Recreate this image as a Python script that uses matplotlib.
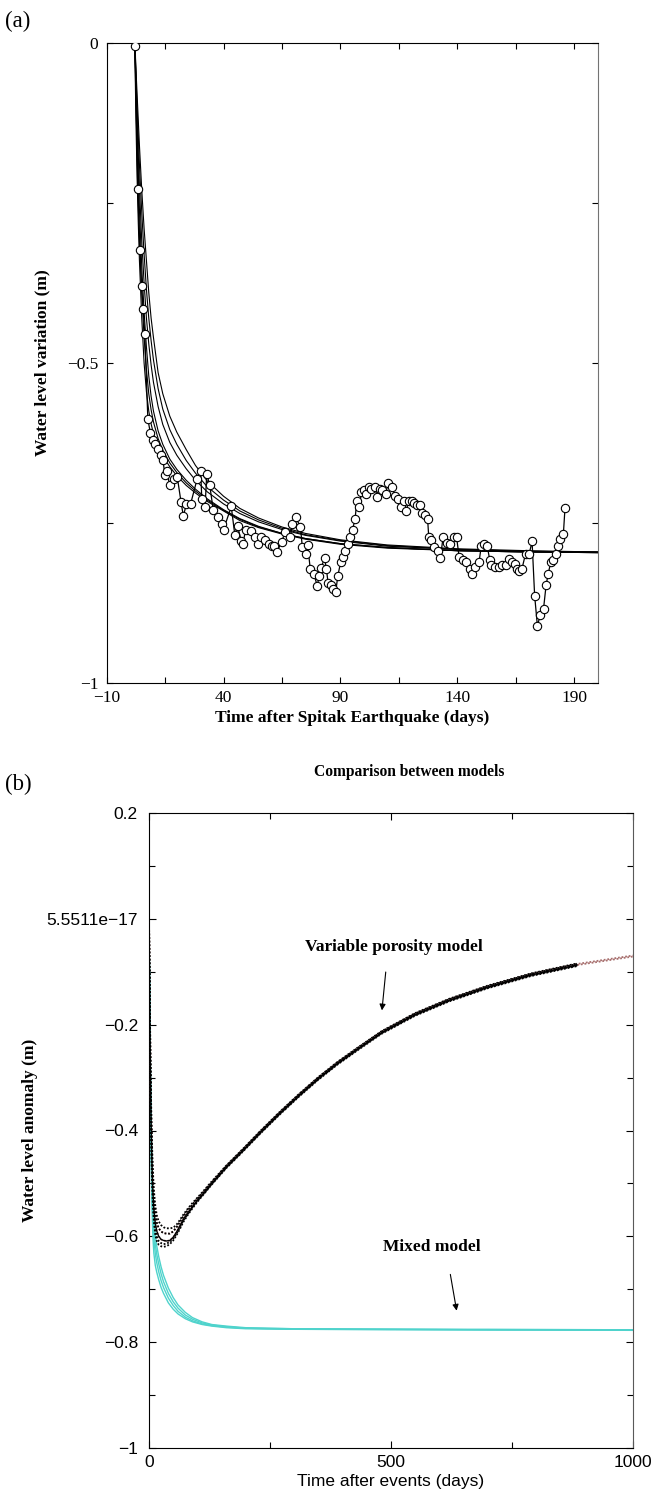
import matplotlib
matplotlib.use("Agg")
import matplotlib.pyplot as plt
from matplotlib.ticker import FixedLocator

# ---------------------------------------------------------------------------
# Panel (a): observed water level after the Spitak earthquake + model fits
# ---------------------------------------------------------------------------
obs_t = [2.2, 3.3, 4.2, 4.9, 5.6, 6.3, 7.6, 8.7, 9.9, 10.6, 11.8, 13.3, 14.1, 14.9,
         15.6, 16.9, 18.7, 20.2, 21.8, 22.8, 24.1, 25.9, 28.7, 30.2, 30.7, 32.1,
         32.8, 34.1, 35.6, 37.6, 39.4, 40.0, 43.3, 44.8, 46.0, 47.6, 48.3, 49.4,
         51.7, 53.3, 54.8, 56.0, 57.9, 59.4, 60.6, 61.7, 62.8, 64.8, 66.3, 68.6,
         69.4, 70.9, 72.9, 73.7, 75.1, 76.0, 77.1, 78.6, 80.1, 80.9, 81.7, 83.2,
         84.0, 84.7, 86.0, 87.0, 88.0, 88.9, 90.1, 90.9, 92.0, 93.2, 94.3, 95.2,
         96.3, 97.0, 98.1, 99.0, 100.1, 100.9, 102.1, 103.2, 104.7, 105.8, 107.0,
         107.8, 109.3, 110.5, 111.9, 113.5, 114.7, 115.9, 117.0, 118.1, 119.3,
         120.5, 121.6, 122.7, 123.9, 124.7, 126.2, 127.3, 127.8, 128.8, 130.1,
         131.6, 132.8, 133.9, 135.4, 137.0, 138.5, 139.7, 140.8, 142.3, 143.9,
         145.4, 146.2, 147.7, 149.3, 150.3, 151.6, 152.8, 153.9, 154.6, 156.2,
         157.7, 159.2, 160.8, 162.3, 163.5, 164.6, 165.7, 166.6, 167.7, 169.2,
         170.8, 172.0, 173.1, 174.3, 175.4, 176.9, 178.0, 178.9, 180.0, 181.1,
         182.3, 183.1, 184.1, 185.4, 186.1]
obs_v = [-0.005, -0.229, -0.324, -0.380, -0.415, -0.455, -0.587, -0.610, -0.620,
         -0.626, -0.634, -0.644, -0.652, -0.675, -0.668, -0.690, -0.681, -0.678,
         -0.717, -0.739, -0.720, -0.720, -0.681, -0.668, -0.713, -0.725, -0.673,
         -0.691, -0.730, -0.741, -0.751, -0.760, -0.724, -0.768, -0.755, -0.778,
         -0.782, -0.761, -0.762, -0.772, -0.782, -0.772, -0.776, -0.782, -0.786,
         -0.785, -0.795, -0.780, -0.764, -0.772, -0.751, -0.741, -0.756, -0.787,
         -0.798, -0.784, -0.822, -0.829, -0.848, -0.832, -0.820, -0.805, -0.821,
         -0.843, -0.847, -0.853, -0.857, -0.832, -0.811, -0.803, -0.794, -0.782,
         -0.772, -0.760, -0.743, -0.715, -0.725, -0.701, -0.699, -0.704, -0.694,
         -0.696, -0.694, -0.709, -0.696, -0.699, -0.704, -0.687, -0.693, -0.708,
         -0.713, -0.725, -0.715, -0.731, -0.715, -0.715, -0.719, -0.722, -0.722,
         -0.734, -0.738, -0.743, -0.772, -0.777, -0.787, -0.793, -0.805, -0.772,
         -0.781, -0.782, -0.772, -0.772, -0.803, -0.808, -0.811, -0.821, -0.829,
         -0.819, -0.811, -0.785, -0.782, -0.785, -0.808, -0.816, -0.819, -0.819,
         -0.816, -0.816, -0.806, -0.811, -0.813, -0.821, -0.824, -0.821, -0.798,
         -0.798, -0.778, -0.863, -0.911, -0.894, -0.884, -0.847, -0.829, -0.811,
         -0.808, -0.798, -0.785, -0.774, -0.767, -0.726]

fit_t = [2, 2.5, 3, 3.5, 4, 5, 6, 7, 8, 9, 10, 12, 14, 17, 20, 24, 28, 33, 40,
         47, 55, 65, 75, 90, 110, 140, 170, 200]
fit_la = [0, -0.12, -0.21, -0.28, -0.34, -0.43, -0.50, -0.545, -0.575, -0.595,
          -0.610, -0.630, -0.645, -0.662, -0.676, -0.691, -0.703, -0.716, -0.731,
          -0.746, -0.757, -0.767, -0.775, -0.783, -0.789, -0.793, -0.795, -0.796]
fit_lb = [0, -0.09, -0.17, -0.24, -0.30, -0.39, -0.46, -0.51, -0.548, -0.573,
          -0.592, -0.618, -0.636, -0.656, -0.671, -0.687, -0.700, -0.714, -0.730,
          -0.744, -0.756, -0.766, -0.774, -0.782, -0.788, -0.793, -0.795, -0.796]
fit_lc = [0, -0.07, -0.14, -0.20, -0.26, -0.35, -0.42, -0.475, -0.52, -0.552,
          -0.575, -0.606, -0.627, -0.650, -0.666, -0.683, -0.697, -0.712, -0.729,
          -0.743, -0.755, -0.766, -0.774, -0.782, -0.788, -0.793, -0.795, -0.796]
fit_ua = [0, -0.04, -0.08, -0.12, -0.16, -0.23, -0.29, -0.34, -0.39, -0.43,
          -0.46, -0.515, -0.548, -0.583, -0.608, -0.635, -0.660, -0.684, -0.708,
          -0.727, -0.742, -0.756, -0.766, -0.776, -0.784, -0.790, -0.793, -0.795]
fit_ub = [0, -0.05, -0.10, -0.145, -0.19, -0.265, -0.33, -0.385, -0.43, -0.465,
          -0.495, -0.540, -0.572, -0.604, -0.627, -0.652, -0.672, -0.693, -0.714,
          -0.731, -0.745, -0.758, -0.768, -0.777, -0.785, -0.791, -0.794, -0.795]
fit_uc = [0, -0.06, -0.12, -0.175, -0.225, -0.31, -0.375, -0.43, -0.47, -0.503,
          -0.53, -0.568, -0.596, -0.624, -0.644, -0.665, -0.683, -0.701, -0.720,
          -0.735, -0.748, -0.760, -0.769, -0.778, -0.786, -0.791, -0.794, -0.795]
fits_a = [fit_la, fit_lb, fit_lc, fit_ua, fit_ub, fit_uc]

a_xticks = [-10, 40, 90, 140, 190]
a_xticklabels = ["\u221210", "40", "90", "140", "190"]
a_yticks = [0, -0.5, -1]
a_yticklabels = ["0", "\u22120.5", "\u22121"]

# ---------------------------------------------------------------------------
# Panel (b): variable porosity model vs mixed model
# ---------------------------------------------------------------------------
vp_t = [0, 1, 2, 3, 4, 6, 8, 10, 13, 16, 20, 25, 30, 36, 43, 50, 57, 64, 71, 80,
        90, 100, 110, 130, 160, 195, 230, 270, 310, 350, 390, 430, 481, 550, 620,
        700, 789, 885, 1000]
vp_main = [0, -0.11, -0.21, -0.30, -0.37, -0.46, -0.515, -0.548, -0.575, -0.590,
           -0.600, -0.606, -0.608, -0.609, -0.608, -0.602, -0.592, -0.580, -0.568,
           -0.556, -0.544, -0.532, -0.522, -0.500, -0.469, -0.437, -0.404, -0.368,
           -0.334, -0.302, -0.273, -0.247, -0.215, -0.181, -0.154, -0.129, -0.106,
           -0.087, -0.071]
vp_low = [0, -0.12, -0.23, -0.325, -0.395, -0.485, -0.54, -0.572, -0.597, -0.609,
          -0.616, -0.619, -0.620, -0.619, -0.615, -0.608, -0.598, -0.586, -0.573,
          -0.560, -0.547, -0.535, -0.524, -0.502, -0.471, -0.439, -0.406, -0.370,
          -0.336, -0.304, -0.275, -0.249, -0.217, -0.183, -0.156, -0.131, -0.108,
          -0.089, -0.073]
vp_mid = [0, -0.115, -0.22, -0.31, -0.38, -0.47, -0.525, -0.56, -0.586, -0.600,
          -0.609, -0.613, -0.615, -0.614, -0.611, -0.605, -0.595, -0.583, -0.570,
          -0.558, -0.545, -0.533, -0.523, -0.501, -0.470, -0.438, -0.405, -0.369,
          -0.335, -0.303, -0.274, -0.248, -0.216, -0.182, -0.155, -0.130, -0.107,
          -0.088, -0.072]
vp_up = [0, -0.10, -0.19, -0.28, -0.35, -0.44, -0.495, -0.530, -0.558, -0.574,
         -0.585, -0.591, -0.594, -0.595, -0.595, -0.591, -0.583, -0.573, -0.562,
         -0.551, -0.540, -0.529, -0.519, -0.498, -0.467, -0.435, -0.402, -0.366,
         -0.332, -0.300, -0.271, -0.245, -0.213, -0.179, -0.152, -0.127, -0.104,
         -0.085, -0.069]
vp_top = [0, -0.09, -0.18, -0.26, -0.33, -0.42, -0.475, -0.512, -0.542, -0.560,
          -0.572, -0.579, -0.583, -0.585, -0.585, -0.584, -0.578, -0.569, -0.559,
          -0.548, -0.537, -0.527, -0.517, -0.496, -0.466, -0.434, -0.401, -0.365,
          -0.331, -0.299, -0.270, -0.244, -0.212, -0.178, -0.151, -0.126, -0.103,
          -0.084, -0.068]
vp_dotted = [vp_low, vp_mid, vp_up, vp_top]

mx_t = [0, 1, 2, 3, 4, 6, 8, 10, 13, 16, 20, 25, 30, 40, 50, 60, 75, 90, 110, 130,
        160, 200, 300, 500, 700, 1000]
mx_1 = [0, -0.13, -0.25, -0.35, -0.43, -0.54, -0.60, -0.632, -0.655, -0.668,
        -0.682, -0.697, -0.708, -0.726, -0.738, -0.747, -0.756, -0.762, -0.767,
        -0.770, -0.773, -0.775, -0.776, -0.777, -0.777, -0.778]
mx_2 = [0, -0.12, -0.23, -0.32, -0.40, -0.51, -0.57, -0.605, -0.633, -0.650,
        -0.667, -0.684, -0.697, -0.717, -0.731, -0.742, -0.753, -0.760, -0.766,
        -0.769, -0.772, -0.774, -0.776, -0.776, -0.777, -0.777]
mx_3 = [0, -0.11, -0.21, -0.30, -0.38, -0.49, -0.55, -0.585, -0.615, -0.634,
        -0.652, -0.671, -0.686, -0.708, -0.724, -0.736, -0.749, -0.757, -0.764,
        -0.768, -0.771, -0.774, -0.775, -0.776, -0.777, -0.777]
mx_4 = [0, -0.10, -0.19, -0.28, -0.36, -0.47, -0.53, -0.565, -0.597, -0.618,
        -0.638, -0.658, -0.674, -0.698, -0.716, -0.730, -0.744, -0.754, -0.762,
        -0.767, -0.770, -0.773, -0.775, -0.776, -0.776, -0.777]
mixed = [mx_1, mx_2, mx_3, mx_4]

b_yticks = [0.2, 0, -0.2, -0.4, -0.6, -0.8, -1]
b_yticklabels = ["0.2", "5.5511e\u221217", "\u22120.2", "\u22120.4", "\u22120.6",
                 "\u22120.8", "\u22121"]
b_xticks = [0, 500, 1000]
b_xticklabels = ["0", "500", "1000"]

SERIF = ["Liberation Serif", "DejaVu Serif"]
SANS = ["Liberation Sans", "DejaVu Sans"]
TURQ = "#4fd3cc"
ROSY = "#a8706f"

W, H = 666, 1494
fig = plt.figure(figsize=(W / 100, H / 100), dpi=100)


def px_axes(l, t, r, b):
    return fig.add_axes([l / W, 1 - b / H, (r - l) / W, (b - t) / H])


# ----------------------------- panel (a) -----------------------------------
ax = px_axes(106.7, 42.7, 597.5, 683.3)
for f in fits_a:
    ax.plot(fit_t, f, color="black", lw=0.8, zorder=2)
ax.plot(obs_t, obs_v, color="black", lw=0.9, marker="o", ms=6.0,
        mfc="white", mec="black", mew=0.8, zorder=3)
ax.set_xlim(-10, 200)
ax.set_ylim(-1, 0)
ax.xaxis.set_major_locator(FixedLocator(a_xticks))
ax.xaxis.set_minor_locator(FixedLocator([15, 65, 115, 165]))
ax.yaxis.set_major_locator(FixedLocator(a_yticks))
ax.yaxis.set_minor_locator(FixedLocator([-0.25, -0.75]))
ax.set_xticklabels(a_xticklabels, family=SERIF, fontsize=12.5)
ax.set_yticklabels(a_yticklabels, family=SERIF, fontsize=12.5)
ax.tick_params(which="both", direction="in", top=True, right=True,
               length=4, width=0.8)
ax.tick_params(axis="x", pad=5)
ax.tick_params(axis="y", pad=6)
ax.spines["right"].set_color("0.45")
ax.set_xlabel("Time after Spitak Earthquake (days)", family=SERIF,
              fontweight="bold", fontsize=12.5, labelpad=3)
ax.set_ylabel("Water level variation (m)", family=SERIF, fontweight="bold",
              fontsize=12.5, labelpad=12)
fig.text(5 / W, 1 - 27 / H, "(a)", family=SERIF, fontsize=16.5, va="baseline")

# ----------------------------- panel (b) -----------------------------------
bx = px_axes(149, 813.3, 632.7, 1447.7)
for c in mixed:
    bx.plot(mx_t, c, color=TURQ, lw=1.0, zorder=2)
for v in (vp_main, vp_up):
    bx.plot(vp_t, v, color=ROSY, lw=1.3, ls=(0, (1, 1)), zorder=3)
for v in vp_dotted:
    bx.plot(vp_t[:-1], v[:-1], color="black", lw=1.3, ls=(0, (1, 1)), zorder=4)
bx.plot(vp_t[:-1], vp_main[:-1], color="black", lw=1.0, zorder=4)
bx.set_xlim(0, 1000)
bx.set_ylim(-1, 0.2)
bx.xaxis.set_major_locator(FixedLocator(b_xticks))
bx.xaxis.set_minor_locator(FixedLocator([250, 750]))
bx.yaxis.set_major_locator(FixedLocator(b_yticks))
bx.yaxis.set_minor_locator(FixedLocator([0.1, -0.1, -0.3, -0.5, -0.7, -0.9]))
bx.set_xticklabels(b_xticklabels, family=SANS, fontsize=12.5)
bx.set_yticklabels(b_yticklabels, family=SANS, fontsize=12.5)
bx.tick_params(which="major", direction="in", top=True, right=True,
               length=5, width=0.8)
bx.tick_params(which="minor", direction="in", top=True, right=True,
               length=4, width=0.8)
bx.tick_params(axis="y", pad=8)
bx.tick_params(axis="x", pad=5)
bx.spines["right"].set_color("0.35")
bx.set_xlabel("Time after events (days)", family=SANS, fontsize=12.5, labelpad=3)
bx.set_ylabel("Water level anomaly (m)", family=SERIF, fontweight="bold",
              fontsize=12.5, labelpad=6)

bx.annotate("", xy=(481, -0.178), xytext=(490, -0.095),
            arrowprops=dict(arrowstyle="-|>", color="black", lw=0.8,
                            mutation_scale=9))
bx.text(507, -0.052, "Variable porosity model", family=SERIF, fontweight="bold",
        fontsize=12.5, ha="center", va="center")
bx.annotate("", xy=(637, -0.746), xytext=(622, -0.667),
            arrowprops=dict(arrowstyle="-|>", color="black", lw=0.8,
                            mutation_scale=9))
bx.text(585, -0.62, "Mixed model", family=SERIF, fontweight="bold",
        fontsize=12.5, ha="center", va="center")
fig.text(409 / W, 1 - 772 / H, "Comparison between models", family=SERIF,
         fontweight="bold", fontsize=11.2, ha="center", va="center")
fig.text(5 / W, 1 - 790 / H, "(b)", family=SERIF, fontsize=16.5, va="baseline")

fig.savefig("out.png", dpi=100)
